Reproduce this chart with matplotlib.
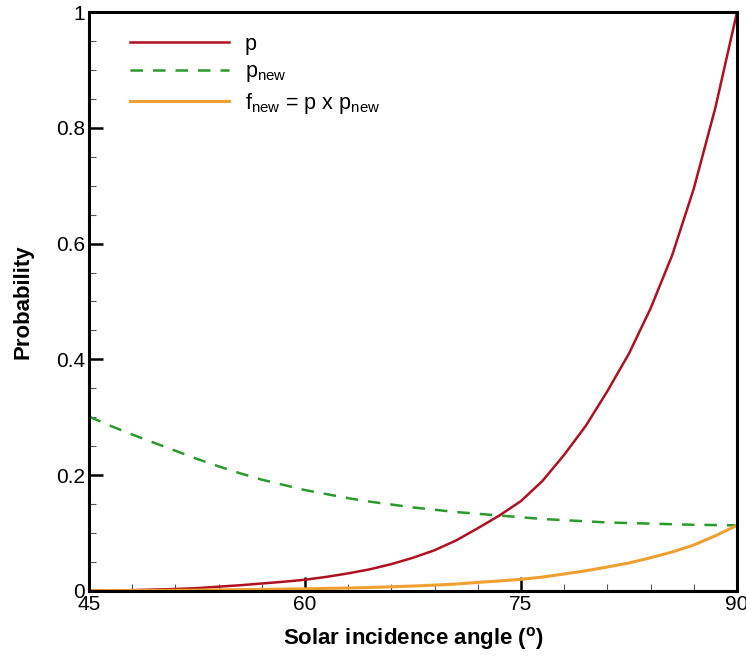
import numpy as np
import matplotlib
matplotlib.use("Agg")
import matplotlib.pyplot as plt
from matplotlib.ticker import MultipleLocator

plt.rcParams['font.family'] = ['Liberation Sans', 'DejaVu Sans']
plt.rcParams['mathtext.fontset'] = 'custom'
plt.rcParams['mathtext.rm'] = 'Liberation Sans'
plt.rcParams['mathtext.bf'] = 'Liberation Sans:bold'

# angles (deg), every 1.5 deg
angle = [45, 46.5, 48, 49.5, 51, 52.5, 54, 55.5, 57, 58.5, 60, 61.5, 63, 64.5, 66, 67.5, 69, 70.5,
         72, 73.5, 75, 76.5, 78, 79.5, 81, 82.5, 84, 85.5, 87, 88.5, 90]
# p
p = [0.0, 0.0005, 0.001, 0.002, 0.003, 0.0045, 0.007, 0.0095, 0.0125, 0.0155, 0.019, 0.024, 0.030,
     0.037, 0.046, 0.057, 0.070, 0.087, 0.108, 0.130, 0.155, 0.190, 0.235, 0.285, 0.345, 0.410,
     0.488, 0.580, 0.695, 0.835, 1.0]
# p_new
p_new = [0.301, 0.285, 0.270, 0.256, 0.242, 0.228, 0.215, 0.203, 0.192, 0.183, 0.174, 0.167, 0.160,
         0.154, 0.149, 0.144, 0.140, 0.136, 0.133, 0.130, 0.127, 0.124, 0.122, 0.120, 0.118, 0.117,
         0.116, 0.115, 0.114, 0.1135, 0.113]
# f_new
f_new = [0.0, 0.0002, 0.0003, 0.0005, 0.0007, 0.001, 0.0015, 0.0019, 0.0023, 0.0028, 0.0033, 0.004,
         0.0047, 0.0056, 0.0068, 0.0081, 0.0097, 0.0116, 0.0144, 0.0169, 0.0197, 0.0236, 0.029,
         0.0345, 0.041, 0.048, 0.057, 0.067, 0.079, 0.095, 0.113]

ytick_vals = [0, 0.2, 0.4, 0.6, 0.8, 1]
ytick_lbls = ["0", "0.2", "0.4", "0.6", "0.8", "1"]
xtick_vals = [45, 60, 75, 90]

fig = plt.figure(figsize=(7.46, 6.59), dpi=100)
ax = fig.add_axes([0.1193, 0.1036, 0.8686, 0.8778])

ax.plot(angle, p, color="#b01020", lw=1.8, label="p")
ax.plot(angle, p_new, color="#2a9a2a", lw=1.8, ls=(0, (5, 4)), label=r"p$_{\mathregular{new}}$")
ax.plot(angle, f_new, color="#f0a030", lw=2.2, label=r"f$_{\mathregular{new}}$ = p x p$_{\mathregular{new}}$")

ax.set_xlim(45, 90)
ax.set_ylim(0, 1)
ax.set_xticks(xtick_vals)
ax.set_xticklabels([str(v) for v in xtick_vals])
ax.xaxis.set_minor_locator(MultipleLocator(3))
ax.set_yticks(ytick_vals)
ax.set_yticklabels(ytick_lbls)
ax.yaxis.set_minor_locator(MultipleLocator(0.05))

ax.tick_params(which="major", direction="in", length=10, width=1.8, labelsize=15, pad=3)
ax.tick_params(which="minor", direction="in", length=5, width=0.8, color="#555555")
for s in ax.spines.values():
    s.set_linewidth(2.2)

ax.set_xlabel("Solar incidence angle ($^{\\mathregular{o}}$)", fontsize=16, fontweight="bold", labelpad=8)
ax.set_ylabel("Probability", fontsize=16, fontweight="bold", labelpad=16)

ax.legend(loc="upper left", bbox_to_anchor=(0.034, 0.996), frameon=False, fontsize=15.5,
          handlelength=4.6, handletextpad=0.7, labelspacing=0.3)

fig.savefig("out.png", dpi=100)
